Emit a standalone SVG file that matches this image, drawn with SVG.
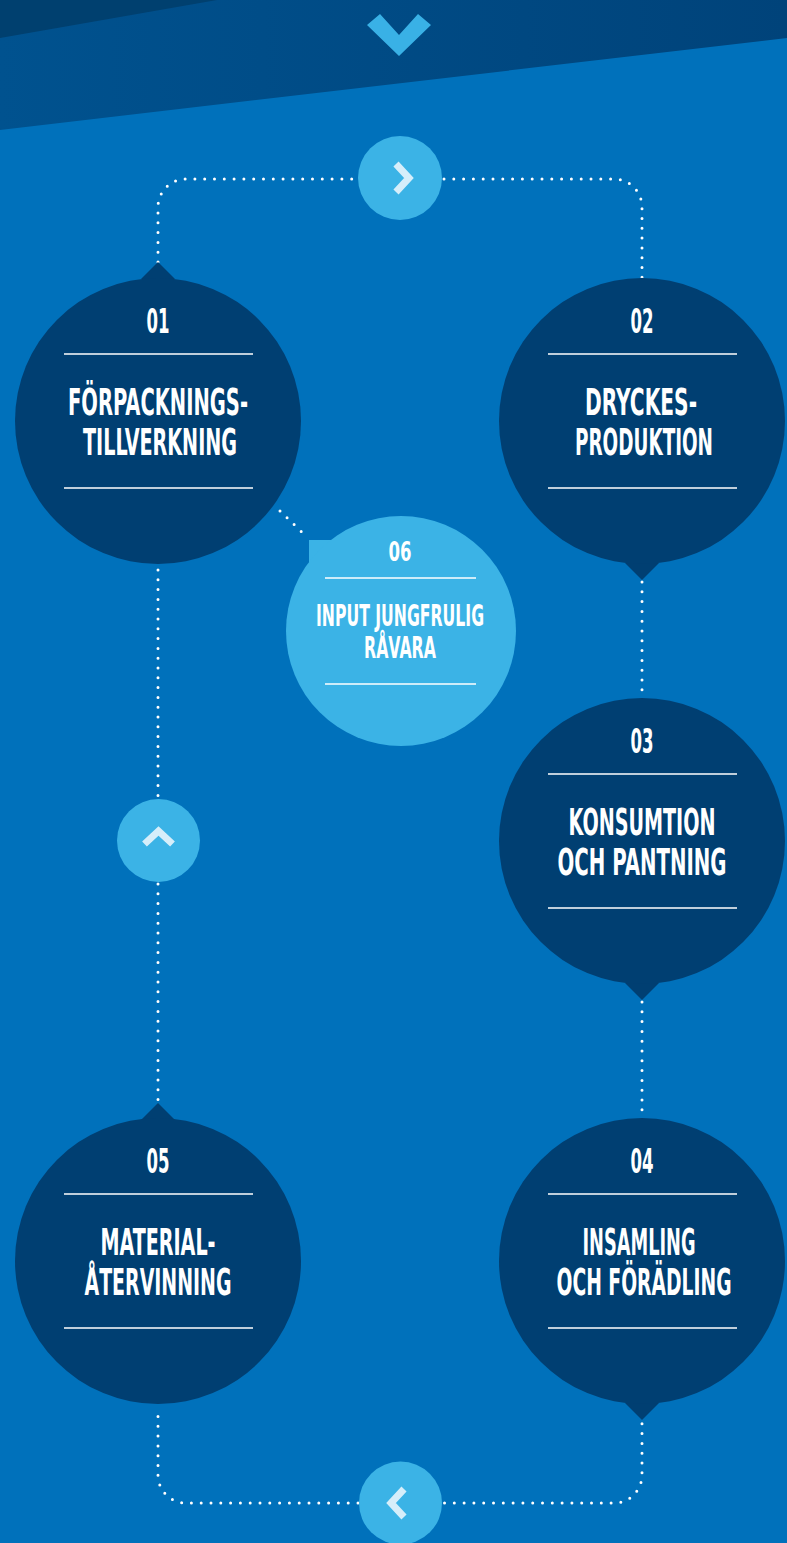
<svg xmlns="http://www.w3.org/2000/svg" xmlns:xlink="http://www.w3.org/1999/xlink" width="787" height="1543" viewBox="0 0 787 1543">
  <style>
    .stage { fill: #003f72; }
    .input { fill: #3bb3e6; }
    .nav { fill: #3bb3e6; }
    .chev { fill: none; stroke: #d6eefa; stroke-width: 7; stroke-linejoin: miter; }
    .rule { stroke: #ffffff; stroke-width: 1.6; }
    .dots { fill: none; stroke: #ffffff; stroke-width: 3; stroke-linecap: round; stroke-dasharray: 0 9.8; }
    text { fill: #ffffff; font-family: "DejaVu Sans Condensed", "DejaVu Sans", "Liberation Sans", sans-serif; font-weight: bold; font-size: 20px; text-anchor: middle; }
  </style>
  <defs>
    <linearGradient id="band" x1="0" y1="0" x2="1" y2="0">
      <stop offset="0" stop-color="#00528f"/>
      <stop offset="1" stop-color="#00437a"/>
    </linearGradient>
    <path id="chevron" class="chev" d="M-5,-14 L8,0 L-5,14"/>
  </defs>

  <!-- background -->
  <rect width="787" height="1543" fill="#0071bb"/>
  <polygon points="0,0 787,0 787,38 0,130" fill="url(#band)"/>
  <polygon points="0,0 217,0 0,38" fill="#00406f"/>
  <polygon points="367,25 380,14 399,35 418,14 431,25 399,56" fill="#39b1e6"/>

  <!-- connectors -->
  <g id="connectors">
    <path class="dots" d="M158,262 V207 A28,28 0 0 1 186,179 H358"/>
    <path class="dots" d="M444,179 H614 A28,28 0 0 1 642,207 V278"/>
    <path class="dots" d="M642,582 V697"/>
    <path class="dots" d="M642,1002 V1118"/>
    <path class="dots" d="M642,1414 V1475 A28,28 0 0 1 614,1503 H444"/>
    <path class="dots" d="M358,1503 H186 A28,28 0 0 1 158,1475 V1412"/>
    <path class="dots" d="M158,570 V798"/>
    <path class="dots" d="M158,884 V1103"/>
    <path class="dots" d="M280,511 L307,537"/>
  </g>

  <!-- direction markers -->
  <g id="nav-top">
    <circle class="nav" cx="400" cy="178" r="42"/>
    <use xlink:href="#chevron" transform="translate(401,178)"/>
  </g>
  <g id="nav-left">
    <circle class="nav" cx="158.5" cy="840.5" r="41.5"/>
    <use xlink:href="#chevron" transform="translate(158.5,839) rotate(-90)"/>
  </g>
  <g id="nav-bottom">
    <circle class="nav" cx="400.5" cy="1503" r="41.5"/>
    <use xlink:href="#chevron" transform="translate(399,1503) rotate(180)"/>
  </g>

  <!-- 01 -->
  <g id="stage-01">
    <path class="stage" d="M141,279 L158,262 L175,279 Z"/>
    <circle class="stage" cx="158" cy="421" r="143"/>
    <text transform="translate(158,333) scale(1,1.71)" textLength="23" lengthAdjust="spacingAndGlyphs">01</text>
    <line class="rule" x1="64" y1="354" x2="253" y2="354"/>
    <text transform="translate(158,415) scale(1,1.85)" textLength="180" lengthAdjust="spacingAndGlyphs">FÖRPACKNINGS-</text>
    <text transform="translate(160,455) scale(1,1.85)" textLength="154" lengthAdjust="spacingAndGlyphs">TILLVERKNING</text>
    <line class="rule" x1="64" y1="488" x2="253" y2="488"/>
  </g>

  <!-- 02 -->
  <g id="stage-02">
    <path class="stage" d="M625,563 L642,580 L659,563 Z"/>
    <circle class="stage" cx="642" cy="421" r="143"/>
    <text transform="translate(642,333) scale(1,1.71)" textLength="23" lengthAdjust="spacingAndGlyphs">02</text>
    <line class="rule" x1="548" y1="354" x2="737" y2="354"/>
    <text transform="translate(641,415) scale(1,1.85)" textLength="112" lengthAdjust="spacingAndGlyphs">DRYCKES-</text>
    <text transform="translate(644,455) scale(1,1.85)" textLength="138" lengthAdjust="spacingAndGlyphs">PRODUKTION</text>
    <line class="rule" x1="548" y1="488" x2="737" y2="488"/>
  </g>

  <!-- 03 -->
  <g id="stage-03">
    <path class="stage" d="M625,983 L642,1000 L659,983 Z"/>
    <circle class="stage" cx="642" cy="841" r="143"/>
    <text transform="translate(642,753) scale(1,1.71)" textLength="23" lengthAdjust="spacingAndGlyphs">03</text>
    <line class="rule" x1="548" y1="774" x2="737" y2="774"/>
    <text transform="translate(642,835) scale(1,1.85)" textLength="147" lengthAdjust="spacingAndGlyphs">KONSUMTION</text>
    <text transform="translate(642,875) scale(1,1.85)" textLength="169" lengthAdjust="spacingAndGlyphs">OCH PANTNING</text>
    <line class="rule" x1="548" y1="908" x2="737" y2="908"/>
  </g>

  <!-- 04 -->
  <g id="stage-04">
    <path class="stage" d="M625,1403 L642,1420 L659,1403 Z"/>
    <circle class="stage" cx="642" cy="1261" r="143"/>
    <text transform="translate(642,1173) scale(1,1.71)" textLength="23" lengthAdjust="spacingAndGlyphs">04</text>
    <line class="rule" x1="548" y1="1194" x2="737" y2="1194"/>
    <text transform="translate(639,1255) scale(1,1.85)" textLength="113" lengthAdjust="spacingAndGlyphs">INSAMLING</text>
    <text transform="translate(644,1295) scale(1,1.85)" textLength="175" lengthAdjust="spacingAndGlyphs">OCH FÖRÄDLING</text>
    <line class="rule" x1="548" y1="1328" x2="737" y2="1328"/>
  </g>

  <!-- 05 -->
  <g id="stage-05">
    <path class="stage" d="M141,1120 L158,1103 L175,1120 Z"/>
    <circle class="stage" cx="158" cy="1261" r="143"/>
    <text transform="translate(158,1173) scale(1,1.71)" textLength="23" lengthAdjust="spacingAndGlyphs">05</text>
    <line class="rule" x1="64" y1="1194" x2="253" y2="1194"/>
    <text transform="translate(158,1255) scale(1,1.85)" textLength="115" lengthAdjust="spacingAndGlyphs">MATERIAL-</text>
    <text transform="translate(158,1295) scale(1,1.85)" textLength="147" lengthAdjust="spacingAndGlyphs">ÅTERVINNING</text>
    <line class="rule" x1="64" y1="1328" x2="253" y2="1328"/>
  </g>

  <!-- 06 -->
  <g id="stage-06">
    <rect class="input" x="309" y="540" width="40" height="40"/>
    <circle class="input" cx="401" cy="631" r="115"/>
    <text transform="translate(400,561) scale(1,1.37)" textLength="23" lengthAdjust="spacingAndGlyphs">06</text>
    <line class="rule" x1="325" y1="578" x2="476" y2="578"/>
    <text transform="translate(400,626) scale(1,1.5)" textLength="168" lengthAdjust="spacingAndGlyphs">INPUT JUNGFRULIG</text>
    <text transform="translate(400,658) scale(1,1.5)" textLength="72" lengthAdjust="spacingAndGlyphs">RÅVARA</text>
    <line class="rule" x1="325" y1="684" x2="476" y2="684"/>
  </g>
</svg>
